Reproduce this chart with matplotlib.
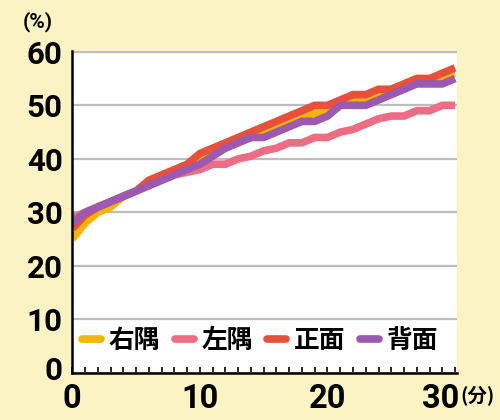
import matplotlib
matplotlib.use("Agg")
import matplotlib.pyplot as plt
import matplotlib.transforms as mtransforms
from matplotlib.lines import Line2D

minutes = list(range(0, 31))
migi_sumi = [25, 28, 30, 31, 33, 34, 35, 36.5, 37.5, 38.5, 40, 41, 42, 43, 44, 45, 46, 47, 48, 48.5,
             49, 50, 51, 51, 52, 53, 54, 55, 55, 55.5, 56]
hidari_sumi = [29, 30, 31, 32, 33, 34, 35, 36, 37, 37.5, 38, 39, 39, 40, 40.5, 41.5, 42, 43, 43, 44,
               44, 45, 45.5, 46.5, 47.5, 48, 48, 49, 49, 50, 50]
shomen = [27, 29.5, 31, 32, 33, 34, 36, 37, 38, 39, 41, 42, 43, 44, 45, 46, 47, 48, 49, 50,
          50, 51, 52, 52, 53, 53, 54, 55, 55, 56, 57]
haimen = [28, 30, 31, 32, 33, 34, 35, 36, 37, 38, 39, 40.5, 42, 43, 44, 44, 45, 46, 47, 47,
          48, 50, 50, 50, 51, 52, 53, 54, 54, 54, 55]

series_names = ["右隅", "左隅", "正面", "背面"]
series_values = [migi_sumi, hidari_sumi, shomen, haimen]
colors = ["#F5B400", "#EE6C84", "#E8503A", "#9B59B0"]

x_ticks = [0, 10, 20, 30]
y_ticks = [0, 10, 20, 30, 40, 50, 60]

num_family = ["Roboto", "DejaVu Sans"]
cjk_family = ["Noto Sans CJK JP", "DejaVu Sans"]

bg = "#FCF3C5"
fig = plt.figure(figsize=(5, 4.2), dpi=100, facecolor=bg)
ax = fig.add_axes([72.3 / 500, 1 - 373 / 420, (457 - 72.3) / 500, (373 - 51) / 420])
ax.set_facecolor("white")

for name, vals, c in zip(series_names, series_values, colors):
    ax.plot(minutes, vals, color=c, lw=5.5, solid_capstyle="butt", solid_joinstyle="miter",
            label=name, zorder=3)

ax.set_xlim(0, 30.15)
ax.set_ylim(0, 60.15)

ax.set_yticks(y_ticks)
ax.set_xticks(x_ticks)
ax.set_xticks(range(0, 31), minor=True)
ax.grid(axis="y", color="#BDBDBD", lw=1.6, zorder=1)
ax.tick_params(axis="y", length=0, pad=7)
ax.tick_params(axis="x", which="both", direction="in", length=4, width=1.2, pad=7)

for s in ["top", "right"]:
    ax.spines[s].set_visible(False)
for s in ["left", "bottom"]:
    ax.spines[s].set_linewidth(1.8)
    ax.spines[s].set_color("black")
    ax.spines[s].set_zorder(4)

ax.set_yticklabels([str(v) for v in y_ticks], fontsize=22.5, fontweight="bold", family=num_family)
ax.set_xticklabels([str(v) for v in x_ticks], fontsize=23.5, fontweight="bold", family=num_family)

# shift "30" left to make room for unit, and "0" on y up
xl = ax.get_xticklabels()
xl[-1].set_transform(xl[-1].get_transform() + mtransforms.ScaledTranslation(-14 / 100, 0, fig.dpi_scale_trans))
yl = ax.get_yticklabels()
yl[0].set_transform(yl[0].get_transform() + mtransforms.ScaledTranslation(0, 5 / 100, fig.dpi_scale_trans))

fig.text(38 / 500, 1 - 22 / 420, "(%)", fontsize=15, fontweight="bold", family=num_family,
         ha="center", va="center")
fig.text(477 / 500, 1 - 395 / 420, "(分)", fontsize=14, fontweight="bold", family=cjk_family,
         ha="center", va="center")

handles = [Line2D([0], [0], color=c, lw=5.5, solid_capstyle="round") for c in colors]
leg = ax.legend(handles, series_names, loc="center left", bbox_to_anchor=(0.025, 0.1),
                ncol=4, frameon=False, borderpad=0, borderaxespad=0,
                handlelength=0.75, handletextpad=0.3, columnspacing=0.55,
                prop={"family": cjk_family, "size": 18.5, "weight": "bold"})
leg.set_zorder(5)

fig.savefig("out.png", dpi=100, facecolor=bg)
